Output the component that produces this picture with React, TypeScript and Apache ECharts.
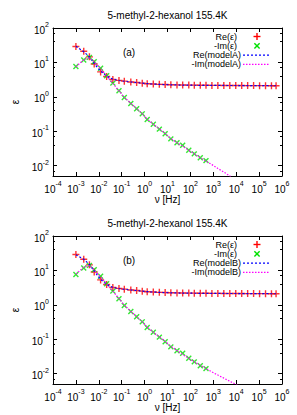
import React, { useEffect, useRef } from 'react';
import * as echarts from 'echarts';

const TITLE = '5-methyl-2-hexanol 155.4K';
const PANEL_LABELS = ['(a)', '(b)'];
const LEGEND_A = ['Re(ε)', '-Im(ε)', 'Re(modelA)', '-Im(modelA)'];
const LEGEND_B = ['Re(ε)', '-Im(ε)', 'Re(modelB)', '-Im(modelB)'];
const X_NAME = 'ν [Hz]';
const Y_NAME = 'ε';

// measured frequencies (Hz)
const freq = [
  0.001, 0.0022, 0.0039, 0.0063, 0.012, 0.022, 0.041, 0.076, 0.13, 0.25, 0.45, 0.79,
  1.3, 2.4, 4.4, 7.9, 14, 26, 46, 85, 148, 270, 480, 870, 1580, 2880, 5250, 9550,
  17400, 31600, 57500, 105000, 191000, 347000, 550000,
];
// Re(eps) data
const reEps = [
  29, 21, 14.5, 9, 5.3, 3.9, 3.2, 3.0, 2.85, 2.7, 2.6, 2.5,
  2.4, 2.35, 2.3, 2.27, 2.24, 2.22, 2.2, 2.19, 2.18, 2.17, 2.16, 2.15, 2.15, 2.14, 2.14, 2.13,
  2.13, 2.12, 2.12, 2.11, 2.11, 2.1, 2.1,
];
// -Im(eps) data (first 23 frequencies)
const imEps = [
  7.6, 11.8, 14, 10.5, 6.8, 4.1, 2.5, 1.5, 0.95, 0.64, 0.45, 0.32,
  0.22, 0.16, 0.115, 0.085, 0.06, 0.046, 0.039, 0.028, 0.022, 0.017, 0.014,
];
// model A
const reModelA = [
  29.5, 20.5, 14.5, 9.2, 5.6, 4.0, 3.25, 2.98, 2.83, 2.7, 2.6, 2.5,
  2.42, 2.35, 2.3, 2.26, 2.23, 2.21, 2.19, 2.18, 2.17, 2.16, 2.15, 2.15, 2.14, 2.14, 2.13, 2.13,
  2.12, 2.12, 2.11, 2.11, 2.11, 2.1, 2.1,
];
const imModelA = [
  7.5, 12, 13.5, 10.5, 6.6, 4.0, 2.45, 1.5, 0.97, 0.65, 0.45, 0.32,
  0.225, 0.16, 0.117, 0.086, 0.062, 0.046, 0.037, 0.028, 0.022, 0.017, 0.0135, 0.0107, 0.0083,
  0.0065, 0.005, 0.0039,
];
// model B
const reModelB = [
  28.5, 21, 15, 9.5, 5.5, 3.9, 3.2, 2.97, 2.83, 2.7, 2.6, 2.5,
  2.42, 2.35, 2.3, 2.26, 2.23, 2.21, 2.19, 2.18, 2.17, 2.16, 2.15, 2.15, 2.14, 2.14, 2.13, 2.13,
  2.12, 2.12, 2.11, 2.11, 2.11, 2.1, 2.1,
];
const imModelB = [
  7.8, 12.5, 13.8, 10.2, 6.5, 4.0, 2.5, 1.52, 0.98, 0.65, 0.45, 0.32,
  0.225, 0.16, 0.117, 0.086, 0.063, 0.047, 0.036, 0.028, 0.022, 0.0175, 0.014, 0.0112, 0.0091,
  0.0074, 0.006, 0.0049, 0.004,
];

const X_MIN = 1e-4;
const X_MAX = 1e6;
const Y_MIN = 0.005;
const Y_MAX = 100;

const FONT = 'Liberation Sans, Arial, Helvetica, sans-serif';
const RED = '#ff0000';
const GREEN = '#00e000';
const BLUE = '#0000ff';
const MAGENTA = '#ff00ff';

const PLUS = 'path://M4,0H6V4H10V6H6V10H4V6H0V4H4Z';

const GRID_LEFT = 53;
const GRID_W = 229;
const GRID_H = 148;
const GRID_TOPS = [28, 236];

const pairs = (xs: number[], ys: number[]) => ys.map((y, i) => [xs[i], y]);

const expLabel = (v: number) => {
  const e = Math.log10(v);
  const r = Math.round(e);
  if (Math.abs(e - r) > 1e-6) return '';
  return `{b|10}{s|${r}}`;
};

const rich = {
  b: { fontSize: 10, fontFamily: FONT, color: '#000', verticalAlign: 'bottom', lineHeight: 14 },
  s: { fontSize: 7, fontFamily: FONT, color: '#000', verticalAlign: 'top', lineHeight: 9 },
};

function buildOption() {
  const xAxis: any[] = [];
  const yAxis: any[] = [];
  const grid: any[] = [];
  const series: any[] = [];
  const graphic: any[] = [];
  const lineCol = '#000';

  GRID_TOPS.forEach((top, gi) => {
    grid.push({ left: GRID_LEFT, top, width: GRID_W, height: GRID_H, containLabel: false });
    const baseX = {
      type: 'log', logBase: 10, gridIndex: gi, min: X_MIN, max: X_MAX, interval: 1,
      axisLine: { show: true, onZero: false, lineStyle: { color: lineCol, width: 1 } },
      axisTick: { show: true, inside: true, length: 4, lineStyle: { color: lineCol } },
      minorTick: { show: false },
      splitLine: { show: false },
    };
    xAxis.push({
      ...baseX, position: 'bottom',
      axisLabel: { show: true, margin: 4, formatter: expLabel, rich },
      name: X_NAME, nameLocation: 'middle', nameGap: 14,
      nameTextStyle: { fontSize: 10, fontFamily: FONT, color: '#000' },
    });
    xAxis.push({ ...baseX, position: 'top', axisLabel: { show: false } });
    const baseY = {
      type: 'log', logBase: 10, gridIndex: gi, min: Y_MIN, max: Y_MAX,
      axisLine: { show: true, onZero: false, lineStyle: { color: lineCol, width: 1 } },
      axisTick: { show: true, inside: true, length: 4, lineStyle: { color: lineCol } },
      minorTick: { show: true, splitNumber: 3, length: 2, lineStyle: { color: lineCol } },
      splitLine: { show: false },
    };
    yAxis.push({
      ...baseY, position: 'left',
      axisLabel: { show: true, margin: 4, formatter: expLabel, rich },
      name: Y_NAME, nameLocation: 'middle', nameGap: 29, nameRotate: 90,
      nameTextStyle: { fontSize: 10, fontFamily: FONT, color: '#000' },
    });
    yAxis.push({ ...baseY, position: 'right', axisLabel: { show: false } });

    const xi = gi * 2;
    const yi = gi * 2;
    const reModel = gi === 0 ? reModelA : reModelB;
    const imModel = gi === 0 ? imModelA : imModelB;
    const names = gi === 0 ? LEGEND_A : LEGEND_B;
    series.push({
      type: 'scatter', name: names[0], xAxisIndex: xi, yAxisIndex: yi,
      symbol: PLUS, symbolSize: 7, itemStyle: { color: RED },
      data: pairs(freq, reEps),
    });
    series.push({
      type: 'scatter', name: names[1], xAxisIndex: xi, yAxisIndex: yi,
      symbol: PLUS, symbolSize: 7, symbolRotate: 45, itemStyle: { color: GREEN },
      data: pairs(freq, imEps),
    });
    series.push({
      type: 'line', name: names[2], xAxisIndex: xi, yAxisIndex: yi, showSymbol: false, symbol: 'none',
      lineStyle: { color: BLUE, width: 1.2, type: [2, 2] }, clip: true,
      data: pairs(freq, reModel),
    });
    series.push({
      type: 'line', name: names[3], xAxisIndex: xi, yAxisIndex: yi, showSymbol: false, symbol: 'none',
      lineStyle: { color: MAGENTA, width: 1.2, type: [1.5, 1.5] }, clip: true,
      data: pairs(freq, imModel),
    });

    // title
    graphic.push({
      type: 'text', x: GRID_LEFT + GRID_W / 2, y: top - 13,
      style: { text: TITLE, textAlign: 'center', textVerticalAlign: 'middle', fontSize: 10, fontFamily: FONT, fill: '#000' },
    });
    // panel label
    graphic.push({
      type: 'text', x: 129, y: top + 24,
      style: { text: PANEL_LABELS[gi], textAlign: 'center', textVerticalAlign: 'middle', fontSize: 10, fontFamily: FONT, fill: '#000' },
    });
    // legend
    const rows = [top + 8.5, top + 17.8, top + 27.1, top + 36.4];
    const rights = [237, 237, 241, 241];
    names.forEach((n, i) => {
      graphic.push({
        type: 'text', x: rights[i], y: rows[i],
        style: { text: n, textAlign: 'right', textVerticalAlign: 'middle', fontSize: 9, fontFamily: FONT, fill: '#000' },
      });
    });
    const sx = 257;
    const h = 3.5;
    graphic.push({ type: 'line', shape: { x1: sx - h, y1: rows[0], x2: sx + h, y2: rows[0] }, style: { stroke: RED, lineWidth: 1.4 } });
    graphic.push({ type: 'line', shape: { x1: sx, y1: rows[0] - h, x2: sx, y2: rows[0] + h }, style: { stroke: RED, lineWidth: 1.4 } });
    const d = 2.6;
    graphic.push({ type: 'line', shape: { x1: sx - d, y1: rows[1] - d, x2: sx + d, y2: rows[1] + d }, style: { stroke: GREEN, lineWidth: 1.4 } });
    graphic.push({ type: 'line', shape: { x1: sx - d, y1: rows[1] + d, x2: sx + d, y2: rows[1] - d }, style: { stroke: GREEN, lineWidth: 1.4 } });
    graphic.push({ type: 'line', shape: { x1: 243, y1: rows[2], x2: 270, y2: rows[2] }, style: { stroke: BLUE, lineWidth: 1.2, lineDash: [2, 2] } });
    graphic.push({ type: 'line', shape: { x1: 243, y1: rows[3], x2: 270, y2: rows[3] }, style: { stroke: MAGENTA, lineWidth: 1.2, lineDash: [1.5, 1.5] } });
  });

  return {
    animation: false,
    backgroundColor: '#ffffff',
    textStyle: { fontFamily: FONT },
    grid, xAxis, yAxis, series, graphic,
  };
}

export default function App() {
  const ref = useRef<HTMLDivElement>(null);
  useEffect(() => {
    if (!ref.current) return;
    const chart = echarts.init(ref.current, null, { renderer: 'svg' });
    chart.setOption(buildOption() as any);
    return () => chart.dispose();
  }, []);
  return (
    <div
      ref={ref}
      style={{ position: 'fixed', left: 0, top: 0, width: 297, height: 415, background: '#fff' }}
    />
  );
}
